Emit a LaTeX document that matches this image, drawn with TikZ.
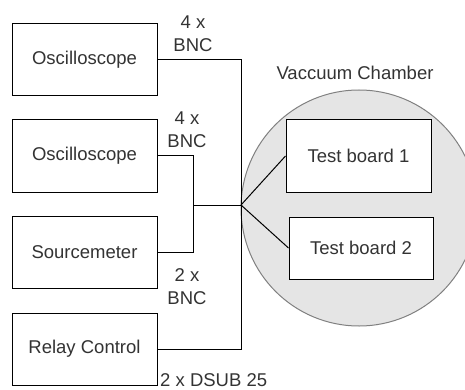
\documentclass[tikz,border=0pt]{standalone}
\usepackage{fontspec}
\setmainfont{Liberation Sans}
\begin{document}
\begin{tikzpicture}[x=1pt,y=-1pt,
  every node/.style={font=\fontsize{18.5}{23}\selectfont, text=black!80, inner sep=0pt},
  box/.style={draw=black, line width=1pt, fill=white, minimum width=145pt, minimum height=72pt},
  wire/.style={draw=black, line width=1pt},
  lbl/.style={align=center}]
\useasboundingbox (0,0) rectangle (465,390);
\fill[fill=black!10, draw=black!50, line width=1pt] (359,208) circle (118);
\node[box] (osc1) at (84.5,59.5) {Oscilloscope};
\node[box] (osc2) at (84.5,156) {Oscilloscope};
\node[box] (src) at (84.5,252) {Sourcemeter};
\node[box] (relay) at (84.5,349) {Relay Control};
\node[box] (tb1) at (358.5,156) {Test board 1};
\node[box, minimum width=144pt, minimum height=62pt] (tb2) at (361,248) {Test board 2};
\coordinate (j) at (241,205);
\coordinate (a) at (241,59.5);
\coordinate (b) at (241,349);
\coordinate (c) at (193,156);
\coordinate (d) at (193,252);
\coordinate (e) at (193,205);
\draw[wire] (osc1.east) -- (a) -- (b) -- (relay.east);
\draw[wire] (osc2.east) -- (c) -- (d) -- (src.east);
\draw[wire] (e) -- (j);
\draw[wire] (j) -- (tb1.west);
\draw[wire] (j) -- (tb2.west);
\node[lbl] (l1) at (193,34) {4 x\\BNC};
\node[lbl] (l2) at (187,130) {4 x\\BNC};
\node[lbl] (l3) at (187,287) {2 x\\BNC};
\node[anchor=base west] (l4) at (160,386) {2 x DSUB 25};
\node (vc) at (355,73) {Vaccuum Chamber};
\end{tikzpicture}
\end{document}
